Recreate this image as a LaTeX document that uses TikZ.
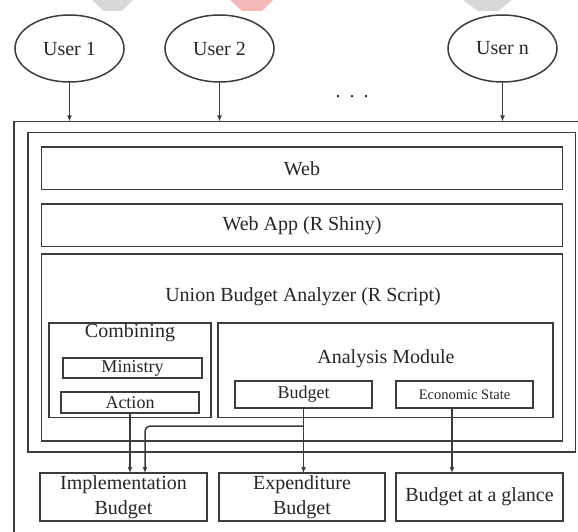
\documentclass[tikz,border=0pt]{standalone}
\usepackage{fontspec}
\setmainfont{Liberation Serif}
\usetikzlibrary{arrows.meta,shapes.geometric}
\definecolor{linec}{HTML}{3C3C3C}
\definecolor{textc}{HTML}{262626}
\definecolor{wmgray}{HTML}{D8D8D8}
\definecolor{wmpink}{HTML}{F4B8B8}
\tikzset{
  box/.style={draw=linec, line width=1.9pt, inner sep=0pt, outer sep=0pt, text=textc},
  user/.style={draw=linec, line width=1.5pt, ellipse, inner sep=0pt, outer sep=0pt, text=textc,
    minimum width=109pt, minimum height=67pt, font=\fontsize{20}{24}\selectfont},
  big/.style={font=\fontsize{20}{25}\selectfont},
  mid/.style={font=\fontsize{18}{22}\selectfont},
  small/.style={font=\fontsize{14.5}{17}\selectfont},
  ttl/.style={inner sep=0pt, text=textc, font=\fontsize{20}{24}\selectfont},
  arr/.style={draw=linec, line width=1.5pt, -{Latex[length=6pt,width=5pt]}}
}
\begin{document}
\begin{tikzpicture}[x=1pt,y=-1pt]
\useasboundingbox (0,0) rectangle (578,532);
\clip (0,0) rectangle (578,532);
\fill[white] (0,0) rectangle (578,532);
% faint watermark fragments at the top edge
\fill[wmgray] (92,0) -- (133,0) -- (122,11) -- (104,11) -- cycle;
\fill[wmpink] (230,0) -- (273,0) -- (262,11) -- (242,11) -- cycle;
\fill[wmgray] (463,0) -- (512,0) -- (498,11) -- (478,11) -- cycle;

% users
\node[user] (u1) at (69.5,48.5) {User 1};
\node[user] (u2) at (219.5,48.5) {User 2};
\node[user] (un) at (502.5,48.5) {User n};
\node[ttl] (dots) at (352,97) {.\hspace{9pt}.\hspace{9pt}.};

% containers
\node[box, minimum width=586pt, minimum height=438.5pt] (outer) at (307,340.75) {};
\node[box, minimum width=547.5pt, minimum height=319.5pt] (second) at (301.75,292.25) {};
\node[box, big, minimum width=521pt, minimum height=42.5pt] (web) at (302,168.25) {Web};
\node[box, big, minimum width=521pt, minimum height=42.5pt] (webapp) at (302,225.25) {Web App (R Shiny)};
\node[box, minimum width=521pt, minimum height=187pt] (union) at (302,347.5) {};
\node[ttl] (uniont) at (303,297) {Union Budget Analyzer (R Script)};

\node[box, minimum width=162pt, minimum height=94.5pt] (comb) at (130,370.25) {};
\node[ttl] (combt) at (130,333) {Combining};
\node[box, mid, minimum width=139pt, minimum height=20pt] (ministry) at (132.5,368) {Ministry};
\node[box, mid, minimum width=138pt, minimum height=21pt] (action) at (130,402.5) {Action};

\node[box, minimum width=335pt, minimum height=94.5pt] (analysis) at (385.5,370.25) {};
\node[ttl] (analysist) at (386,359) {Analysis Module};
\node[box, mid, minimum width=137pt, minimum height=27pt] (budget) at (303.5,394.5) {Budget};
\node[box, small, minimum width=137pt, minimum height=27pt] (econ) at (464.5,394.5) {Economic State};

% outputs
\node[box, big, align=center, minimum width=167pt, minimum height=48pt] (impl) at (123.5,497) {Implementation\\Budget};
\node[box, big, align=center, minimum width=166pt, minimum height=48pt] (expend) at (302,497) {Expenditure\\Budget};
\node[box, big, minimum width=167pt, minimum height=48pt] (glance) at (479.5,497) {Budget at a glance};

% connectors
\draw[arr] (u1.south) -- (u1.south |- outer.north);
\draw[arr] (u2.south) -- (u2.south |- outer.north);
\draw[arr] (un.south) -- (un.south |- outer.north);

\draw[arr] (action.south) -- (action.south |- impl.north);
\draw[arr] (budget.south) -- (budget.south |- expend.north);
\coordinate (split) at (303.5,426);
\coordinate (implin) at (145,473);
\draw[arr, rounded corners=5pt] (split) -| (implin);
\coordinate (ex) at (452,0);
\draw[arr] (econ.south -| ex) -- (glance.north -| ex);
\end{tikzpicture}
\end{document}
